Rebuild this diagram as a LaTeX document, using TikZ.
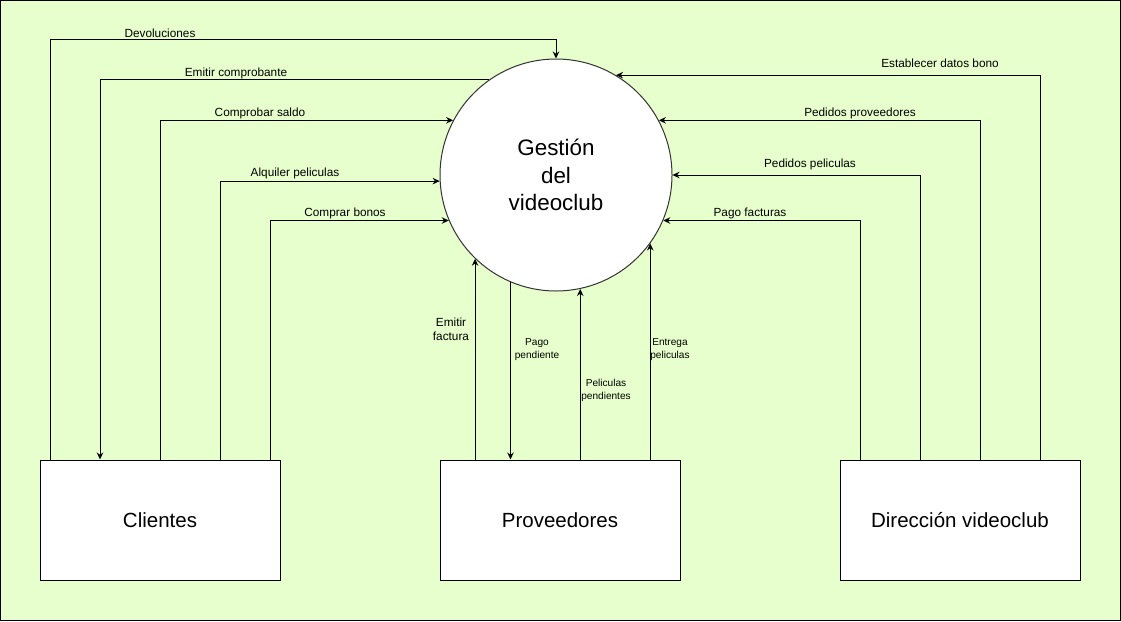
\documentclass[tikz,border=0pt]{standalone}
\usepackage{fontspec}
\setmainfont{Liberation Sans}
\usepackage{tikz}
\usetikzlibrary{calc,positioning,arrows.meta}
\definecolor{bg}{HTML}{E6FFCC}
\definecolor{rim}{HTML}{333333}

\begin{document}
\begin{tikzpicture}[x=1pt,y=-1pt,line width=1pt,
  entity/.style={rectangle,draw,fill=white,minimum width=240pt,minimum height=120pt,inner sep=0pt,font=\fontsize{20.5}{24}\selectfont},
  flow/.style={-{Stealth[length=7pt,width=6.5pt]}},
  lbl/.style={inner sep=0pt,font=\fontsize{11.8}{14}\selectfont,align=center},
  slbl/.style={inner sep=0pt,font=\fontsize{10.1}{13}\selectfont,align=center}]
\useasboundingbox (0,0) rectangle (1121,621);
\fill[bg] (0,0) rectangle (1121,621);
\draw (0.5,0.5) rectangle (1120.5,620.5);

\node (ges) [circle,draw=rim,fill=white,minimum size=232pt,inner sep=0pt,align=center,font=\fontsize{22.4}{27.5}\selectfont] at (556,175) {Gestión\\ del\\videoclub};
\node (cli) [entity] at (160,520) {Clientes};
\node (prov) [entity] at (560,520) {Proveedores};
\node (dir) [entity] at (960,520) {Dirección videoclub};

% Clientes
\draw[flow] ([xshift=-110pt]cli.north) |- ([yshift=19pt]ges.north) -- (ges.north);
\draw[flow] (ges.125) -| ([xshift=-60pt]cli.north);
\draw[flow] (cli.north) |- (ges.152);
\draw[flow] ([xshift=60pt]cli.north) |- (ges.183);
\draw[flow] ([xshift=110pt]cli.north) |- (ges.203);
\node (dev) [lbl] at (160,33) {Devoluciones};
\node (comp) [lbl] at (236,73) {Emitir comprobante};
\node (saldo) [lbl] at (260,113) {Comprobar saldo};
\node (alq) [lbl] at (295,173) {Alquiler peliculas};
\node (bonos) [lbl] at (345,213) {Comprar bonos};

% Proveedores
\draw[flow] (ges.226 |- prov.north) -- (ges.226);
\draw[flow] (ges.247) -- (ges.247 |- prov.north);
\draw[flow] (ges.282 |- prov.north) -- (ges.282);
\draw[flow] (ges.324 |- prov.north) -- (ges.324);
\node (fact) [lbl] at (451,329) {Emitir\\factura};
\node (ppend) [slbl] at (537,350) {Pago\\pendiente};
\node (pelp) [slbl] at (606,390) {Peliculas\\pendientes};
\node (entr) [slbl] at (670,350) {Entrega\\peliculas};

% Direccion
\draw[flow] ([xshift=80pt]dir.north) |- (ges.59);
\draw[flow] ([xshift=20pt]dir.north) |- (ges.28);
\draw[flow] ([xshift=-40pt]dir.north) |- (ges.0);
\draw[flow] ([xshift=-100pt]dir.north) |- (ges.337);
\node (bono) [lbl] at (940,63) {Establecer datos bono};
\node (pprov) [lbl] at (860,113) {Pedidos proveedores};
\node (ppel) [lbl] at (810,164) {Pedidos peliculas};
\node (pfac) [lbl] at (750,213) {Pago facturas};
\end{tikzpicture}
\end{document}
